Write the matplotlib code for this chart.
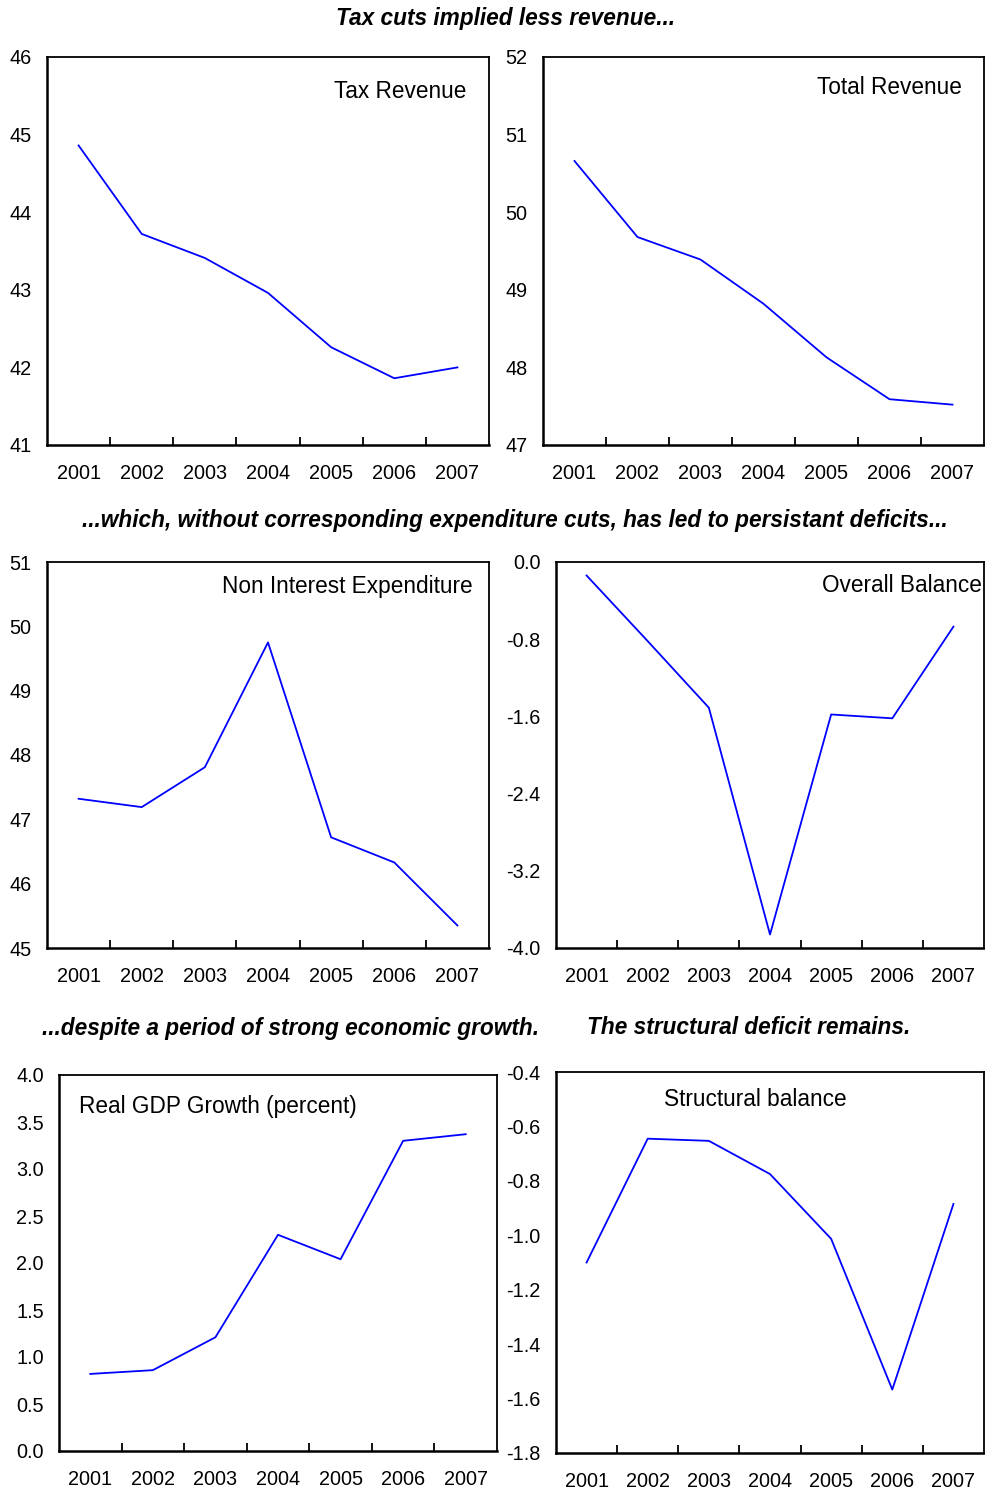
import numpy as np
import matplotlib
matplotlib.use("Agg")
import matplotlib.pyplot as plt

plt.rcParams['font.family'] = ['Liberation Sans', 'DejaVu Sans']

years = ['2001', '2002', '2003', '2004', '2005', '2006', '2007']

tax_revenue = [44.86, 43.72, 43.41, 42.96, 42.26, 41.86, 42.00]
total_revenue = [50.66, 49.68, 49.39, 48.82, 48.13, 47.59, 47.52]
non_interest_exp = [47.32, 47.19, 47.81, 49.75, 46.72, 46.33, 45.35]
overall_balance = [-0.14, -0.82, -1.51, -3.86, -1.58, -1.62, -0.67]
gdp_growth = [0.82, 0.86, 1.21, 2.30, 2.04, 3.30, 3.37]
structural_balance = [-1.10, -0.645, -0.653, -0.775, -1.013, -1.567, -0.885]

W, H = 985, 1491
fig = plt.figure(figsize=(W / 100, H / 100), dpi=100)


def px_axes(left, top, right, bottom):
    return fig.add_axes([left / W, 1 - bottom / H, (right - left) / W, (bottom - top) / H])


def panel(box, values, ylim, yticks, fmt, label, lx, ly, ha):
    ax = px_axes(*box)
    x = np.arange(1, len(years) + 1)
    ax.plot(x, values, color='#0000ff', lw=1.3)
    ax.set_xlim(0.5, len(years) + 0.5)
    ax.set_ylim(*ylim)
    ax.set_yticks(yticks)
    ax.set_yticklabels([fmt % v for v in yticks])
    ax.set_xticks(x)
    ax.set_xticklabels(years)
    ax.set_xticks(np.arange(1.5, len(years)), minor=True)
    ax.tick_params(axis='x', which='major', length=0, pad=14, labelsize=14.3)
    ax.tick_params(axis='x', which='minor', direction='in', length=6, width=1.3)
    ax.tick_params(axis='y', length=0, pad=11, labelsize=14.3)
    for s in ax.spines.values():
        s.set_linewidth(1.3)
    ax.spines['bottom'].set_linewidth(1.8)
    ax.spines['left'].set_linewidth(1.8)
    fig.text(lx / W, 1 - ly / H, label, ha=ha, va='center', fontsize=16.3)
    return ax


panel((47, 57, 489, 445), tax_revenue, (41, 46), [41, 42, 43, 44, 45, 46], '%d',
      'Tax Revenue', 466, 92, 'right')
panel((543, 57, 984, 445), total_revenue, (47, 52), [47, 48, 49, 50, 51, 52], '%d',
      'Total Revenue', 962, 88, 'right')
panel((47, 562, 489, 948), non_interest_exp, (45, 51), [45, 46, 47, 48, 49, 50, 51], '%d',
      'Non Interest Expenditure', 473, 587, 'right')
panel((556, 562, 984, 948), overall_balance, (-4.0, 0.0), [-4.0, -3.2, -2.4, -1.6, -0.8, 0.0], '%.1f',
      'Overall Balance', 982, 585, 'right')
panel((59, 1075, 497, 1451), gdp_growth, (0, 4), [0, 0.5, 1.0, 1.5, 2.0, 2.5, 3.0, 3.5, 4.0], '%.1f',
      'Real GDP Growth (percent)', 79, 1106, 'left')
panel((556, 1072, 984, 1453), structural_balance, (-1.8, -0.4), [-1.8, -1.6, -1.4, -1.2, -1.0, -0.8, -0.6, -0.4], '%.1f',
      'Structural balance', 755, 1099, 'center')

title_kw = dict(ha='center', va='center', fontsize=16.3, fontweight='bold', fontstyle='italic')
fig.text(505 / W, 1 - 18 / H, 'Tax cuts implied less revenue...', **title_kw)
fig.text(515 / W, 1 - 520 / H,
         '...which, without corresponding expenditure cuts, has led to persistant deficits...', **title_kw)
fig.text(291 / W, 1 - 1028 / H, '...despite a period of strong economic growth.', **title_kw)
fig.text(749 / W, 1 - 1028 / H, 'The structural deficit remains.', **title_kw)

fig.savefig('out.png', dpi=100)
